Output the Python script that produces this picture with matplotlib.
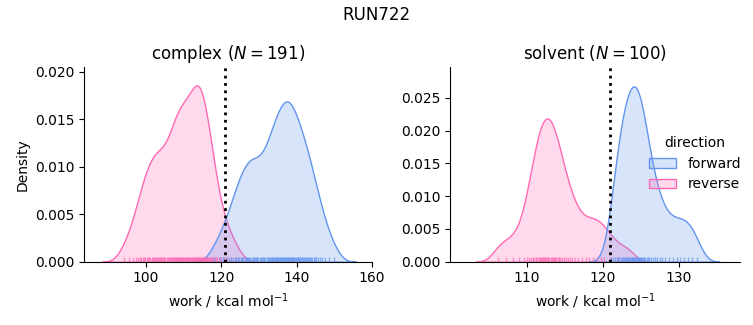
import numpy as np
import matplotlib
matplotlib.use('Agg')
import matplotlib.pyplot as plt
from matplotlib.colors import to_rgba
from matplotlib.patches import Patch

run_name = 'RUN722'
n_complex = 191
n_solvent = 100
work_ref = 121.0

complex_forward = [
    118.0, 119.5, 120.5, 121.33, 122.0, 122.67,
    123.2, 123.6, 124.0, 124.4, 124.8,
    125.17, 125.5, 125.83, 126.17, 126.5, 126.83,
    127.14, 127.43, 127.71, 128.0, 128.29, 128.57, 128.86,
    129.17, 129.5, 129.83, 130.17, 130.5, 130.83,
    131.14, 131.43, 131.71, 132.0, 132.29, 132.57, 132.86,
    133.11, 133.33, 133.56, 133.78, 134.0, 134.22, 134.44, 134.67, 134.89,
    135.1, 135.3, 135.5, 135.7, 135.9, 136.1, 136.3, 136.5, 136.7, 136.9,
    137.09, 137.27, 137.45, 137.64, 137.82, 138.0, 138.18, 138.36, 138.55, 138.73, 138.91,
    139.11, 139.33, 139.56, 139.78, 140.0, 140.22, 140.44, 140.67, 140.89,
    141.12, 141.38, 141.62, 141.88, 142.12, 142.38, 142.62, 142.88,
    143.17, 143.5, 143.83, 144.17, 144.5, 144.83,
    145.25, 145.75, 146.25, 146.75, 147.5, 148.5, 150.0]
complex_reverse = [
    94.0, 95.5, 96.5, 97.25, 97.75, 98.25, 98.75,
    99.17, 99.5, 99.83, 100.17, 100.5, 100.83,
    101.14, 101.43, 101.71, 102.0, 102.29, 102.57, 102.86,
    103.14, 103.43, 103.71, 104.0, 104.29, 104.57, 104.86,
    105.14, 105.43, 105.71, 106.0, 106.29, 106.57, 106.86,
    107.1, 107.3, 107.5, 107.7, 107.9, 108.1, 108.3, 108.5, 108.7, 108.9,
    109.1, 109.3, 109.5, 109.7, 109.9, 110.1, 110.3, 110.5, 110.7, 110.9,
    111.1, 111.3, 111.5, 111.7, 111.9, 112.1, 112.3, 112.5, 112.7, 112.9,
    113.08, 113.23, 113.38, 113.54, 113.69, 113.85, 114.0,
    114.15, 114.31, 114.46, 114.62, 114.77, 114.92,
    115.1, 115.3, 115.5, 115.7, 115.9, 116.1, 116.3, 116.5, 116.7, 116.9,
    117.17, 117.5, 117.83, 118.17, 118.5, 118.83,
    119.33, 120.0, 120.67, 121.5, 122.5, 124.0]
solvent_forward = [
    121.12, 121.38, 121.62, 121.88,
    122.07, 122.21, 122.36, 122.5, 122.64, 122.79, 122.93,
    123.06, 123.19, 123.31, 123.44, 123.56, 123.69, 123.81, 123.94,
    124.06, 124.17, 124.28, 124.39, 124.5, 124.61, 124.72, 124.83, 124.94,
    125.07, 125.21, 125.36, 125.5, 125.64, 125.79, 125.93,
    126.12, 126.38, 126.62, 126.88, 127.17, 127.5, 127.83,
    128.25, 128.75, 129.25, 129.75, 130.25, 130.75,
    131.25, 131.75, 132.5]
solvent_reverse = [
    106.2, 107.3, 108.2, 109.0, 109.67, 110.0, 110.33,
    110.6, 110.8, 111.0, 111.2, 111.4,
    111.57, 111.71, 111.86, 112.0, 112.14, 112.29, 112.43,
    112.57, 112.71, 112.86, 113.0, 113.14, 113.29, 113.43,
    113.58, 113.75, 113.92, 114.08, 114.25, 114.42,
    114.62, 114.88, 115.12, 115.38, 115.67, 116.0, 116.33,
    116.75, 117.25, 117.75, 118.25, 118.75, 119.25,
    119.75, 120.25, 121.0, 122.0, 123.4]

c_fwd = '#6495ED'
c_rev = '#FF69B4'

# all works normalised together (common_norm over both phases)
n_all = len(complex_forward) + len(complex_reverse) + len(solvent_forward) + len(solvent_reverse)


def kde(samples, bw, gridsize=200, cut=3):
    s = np.asarray(samples)
    xx = np.linspace(s.min() - cut*bw, s.max() + cut*bw, gridsize)
    yy = np.exp(-0.5*((xx[:, None] - s[None, :])/bw)**2).sum(axis=1)
    yy = yy / (bw*np.sqrt(2*np.pi)) / n_all
    return xx, yy


fig = plt.figure(figsize=(7.53, 3.25), dpi=100)
ax1 = fig.add_axes([84/753, 1 - 261.7/325, 288/753, 194.4/325])
ax2 = fig.add_axes([450/753, 1 - 261.7/325, 290/753, 194.4/325])

panels = [
    (ax1, 'complex', n_complex, complex_forward, complex_reverse, 1.91, (83.5, 160), (0, 0.02046)),
    (ax2, 'solvent', n_solvent, solvent_forward, solvent_reverse, 0.96, (99.9, 138.1), (0, 0.02968)),
]

for ax, phase, nn, fwd, rev, bw, xlim, ylim in panels:
    for samples, col in [(rev, c_rev), (fwd, c_fwd)]:
        xx, yy = kde(samples, bw)
        ax.fill_between(xx, 0, yy, facecolor=to_rgba(col, 0.25), edgecolor=col, linewidth=1)
        ax.vlines(samples, 0, 0.025, transform=ax.get_xaxis_transform(),
                  colors=col, linewidth=1, alpha=0.7)
    ax.axvline(work_ref, color='k', linestyle=':', linewidth=2)
    ax.set_xlim(*xlim)
    ax.set_ylim(*ylim)
    ax.set_title(rf'{phase} ($N={nn}$)', fontsize=12)
    ax.set_xlabel(r'work / kcal mol$^{-1}$')
    ax.spines['top'].set_visible(False)
    ax.spines['right'].set_visible(False)

ax1.set_ylabel('Density')
ax1.set_yticks([0, 0.005, 0.010, 0.015, 0.020])
ax2.set_yticks([0, 0.005, 0.010, 0.015, 0.020, 0.025])
ax1.set_xticks([100, 120, 140, 160])
ax2.set_xticks([110, 120, 130])

handles = [Patch(facecolor=to_rgba(c_fwd, 0.25), edgecolor=c_fwd, linewidth=1),
           Patch(facecolor=to_rgba(c_rev, 0.25), edgecolor=c_rev, linewidth=1)]
fig.legend(handles, ['forward', 'reverse'], title='direction', frameon=False,
           loc='upper left', bbox_to_anchor=(643/753, 1 - 130/325), borderaxespad=0)

fig.suptitle(run_name, fontsize=12)
fig.savefig('out.png', dpi=100)
